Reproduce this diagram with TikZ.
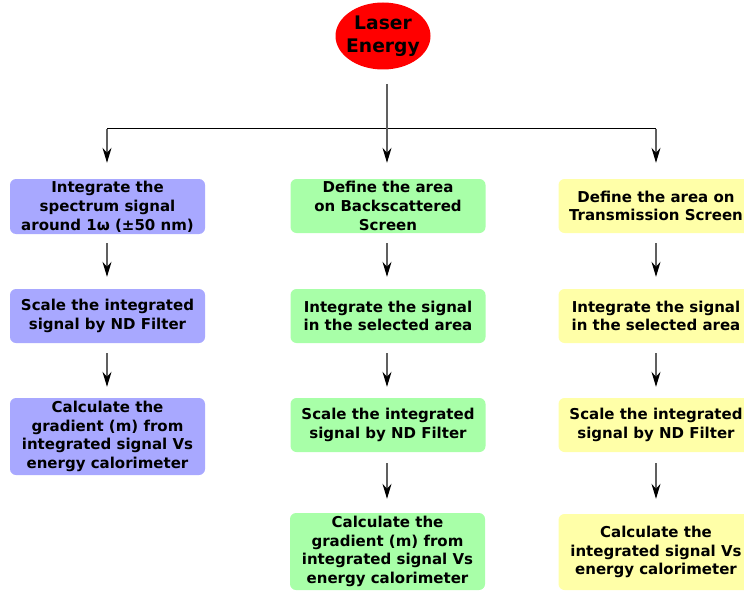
\documentclass[tikz,border=0pt]{standalone}
\usepackage{fontspec}
\setmainfont{DejaVu Sans}
\usetikzlibrary{shapes.geometric,arrows.meta}
\definecolor{cblue}{HTML}{A8A8FF}
\definecolor{cgreen}{HTML}{A8FFA8}
\definecolor{cyellow}{HTML}{FFFFA8}
\definecolor{cline}{HTML}{606060}
\tikzset{
  box/.style={rectangle, rounded corners=6pt, minimum width=195pt, inner sep=0pt, align=center,
    font=\fontsize{15}{18.8}\selectfont\bfseries},
  bluebox/.style={box, fill=cblue},
  greenbox/.style={box, fill=cgreen},
  yellowbox/.style={box, fill=cyellow},
  arr/.style={draw=cline, line width=1.1pt, -{Stealth[length=15pt,width=9pt,inset=5pt,color=black]}},
}
\begin{document}
\begin{tikzpicture}[x=1pt,y=-1pt]
\useasboundingbox (0,0) rectangle (744,591);
\clip (0,0) rectangle (744,591);
\node[ellipse, fill=red, minimum width=95pt, minimum height=67pt, inner xsep=-4pt, inner ysep=0pt, align=center,
  font=\fontsize{18.7}{23}\selectfont\bfseries] (laser) at (383,36) {Laser\\Energy};
% left column
\node[bluebox, minimum height=55pt] (L1) at (107.5,206.5) {Integrate the\\spectrum signal\\around 1ω (±50 nm)};
\node[bluebox, minimum height=54pt] (L2) at (107.5,316) {Scale the integrated\\signal by ND Filter};
\node[bluebox, minimum height=77pt] (L3) at (107.5,436.5) {Calculate the\\gradient (m) from\\integrated signal Vs\\energy calorimeter};
% middle column
\node[greenbox, minimum height=54pt] (M1) at (388,206) {Define the area\\on Backscattered\\Screen};
\node[greenbox, minimum height=54pt] (M2) at (388,316) {Integrate the signal\\in the selected area};
\node[greenbox, minimum height=54pt] (M3) at (388,425) {Scale the integrated\\signal by ND Filter};
\node[greenbox, minimum height=77pt] (M4) at (387.5,551.5) {Calculate the\\gradient (m) from\\integrated signal Vs\\energy calorimeter};
% right column
\node[yellowbox, minimum height=54pt] (R1) at (656,206) {Define the area on\\Transmission Screen};
\node[yellowbox, minimum height=54pt] (R2) at (656,316) {Integrate the signal\\in the selected area};
\node[yellowbox, minimum height=54pt] (R3) at (656,425) {Scale the integrated\\signal by ND Filter};
\node[yellowbox, minimum height=76pt] (R4) at (656,552) {Calculate the\\integrated signal Vs\\energy calorimeter};
% junctions
\coordinate (S) at (387,84);
\coordinate (J) at (387,129);
\coordinate (JL) at (107,129);
\coordinate (JR) at (656,129);
\draw[black, line width=1pt] (JL) -- (JR);
\draw[arr, shorten >=16pt] (S) -- (J |- M1.north);
\draw[arr, shorten >=16pt] (JL) -- (JL |- L1.north);
\draw[arr, shorten >=16pt] (JR) -- (JR |- R1.north);
% left arrows
\draw[arr, shorten <=9pt, shorten >=12pt] (L1.south -| JL) -- (L2.north -| JL);
\draw[arr, shorten <=10pt, shorten >=11pt] (L2.south -| JL) -- (L3.north -| JL);
% middle arrows
\draw[arr, shorten <=10pt, shorten >=12pt] (M1.south -| J) -- (M2.north -| J);
\draw[arr, shorten <=10pt, shorten >=11pt] (M2.south -| J) -- (M3.north -| J);
\draw[arr, shorten <=11pt, shorten >=14pt] (M3.south -| J) -- (M4.north -| J);
% right arrows
\draw[arr, shorten <=10pt, shorten >=12pt] (R1.south -| JR) -- (R2.north -| JR);
\draw[arr, shorten <=10pt, shorten >=11pt] (R2.south -| JR) -- (R3.north -| JR);
\draw[arr, shorten <=11pt, shorten >=15pt] (R3.south -| JR) -- (R4.north -| JR);
\end{tikzpicture}
\end{document}
